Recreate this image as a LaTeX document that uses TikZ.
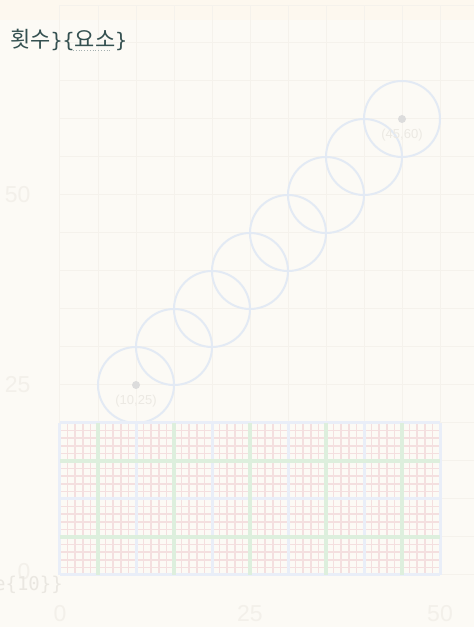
\documentclass[tikz,border=0pt]{standalone}
\usepackage{fontspec}
\setmainfont{Liberation Sans}
\setmonofont{DejaVu Sans Mono}
\newfontfamily\kofont{Noto Sans CJK KR}
\usepackage{tikz}
\usetikzlibrary{positioning}
\definecolor{paperBg}{RGB}{252,250,245}
\definecolor{paperTop}{RGB}{253,248,239}
\definecolor{faintLine}{RGB}{245,242,236}
\definecolor{ringBlue}{RGB}{227,234,244}
\definecolor{dotGray}{RGB}{220,220,220}
\definecolor{ghostText}{RGB}{243,240,234}
\definecolor{cellPink}{RGB}{244,223,223}
\definecolor{bandGreen}{RGB}{221,239,221}
\definecolor{bandBlue}{RGB}{233,238,248}
\definecolor{titleSlate}{RGB}{52,80,80}

\begin{document}
\begin{tikzpicture}[x=7.6pt,y=7.6pt,
    ring/.style={draw=ringBlue, line width=2pt},
    ringdot/.style={circle, fill=dotGray, inner sep=0pt, minimum size=8pt},
    ringlabel/.style={font=\fontsize{13}{15}\selectfont, text=ghostText!97!black},
    axislabel/.style={font=\fontsize{23}{26}\selectfont, text=ghostText}]
  % page and its faint grid
  \fill[paperBg] (-60pt,-52pt) rectangle (414pt,575pt);
  \fill[paperTop] (-60pt,555pt) rectangle (414pt,575pt);
  \useasboundingbox (-60pt,-52pt) rectangle (414pt,575pt);
  \draw[faintLine, line width=1pt] (0,0) grid[step=5] (55,75);

  % axis numbers
  \node[axislabel, anchor=east] (y50) at (-26pt,50) {50};
  \node[axislabel, anchor=east] (y25) at (-26pt,25) {25};
  \node[axislabel, anchor=east] (y0) at (-26pt,0.4) {0};
  \node[axislabel] (x0) at (0,-39pt) {0};
  \node[axislabel] (x25) at (25,-39pt) {25};
  \node[axislabel] (x50) at (50,-39pt) {50};
  \node[font=\ttfamily\fontsize{19}{22}\selectfont, text=ghostText!92!gray,
        anchor=east, inner sep=0pt] (stray) at (3pt,-1.3) {e\{10\}\}};

  % chain of rings
  \foreach \k in {0,...,7}
    \draw[ring] (10+5*\k,25+5*\k) circle (5);
  \node[ringdot] (first) at (10,25) {};
  \node[ringdot] (last) at (45,60) {};
  \node[ringlabel, below=2pt of first] {(10,25)};
  \node[ringlabel, below=2pt of last] {(45,60)};

  % block of cells
  \draw[cellPink, line width=1.6pt] (0,0) grid[step=1] (50,20);
  \foreach \x in {0,10,...,50}
    \draw[bandBlue, line width=3pt] (\x,0) -- (\x,20);
  \foreach \y in {0,10,20}
    \draw[bandBlue, line width=3pt] (0,\y) -- (50,\y);
  \foreach \x in {5,15,...,45}
    \draw[bandGreen, line width=4.8pt] (\x,0) -- (\x,20);
  \foreach \y in {5,15}
    \draw[bandGreen, line width=4.8pt] (0,\y) -- (50,\y);

  % title
  \node[font=\kofont\fontsize{22}{26}\selectfont, text=titleSlate,
        anchor=west, inner sep=0pt] (title) at (-50pt,535pt)
        {횟수{\ttfamily\fontsize{20}{24}\selectfont\}\{}요소{\ttfamily\fontsize{20}{24}\selectfont\}}};
  \draw[titleSlate!45, dotted, line width=0.8pt] (13pt,525pt) -- (52pt,525pt);
\end{tikzpicture}
\end{document}
